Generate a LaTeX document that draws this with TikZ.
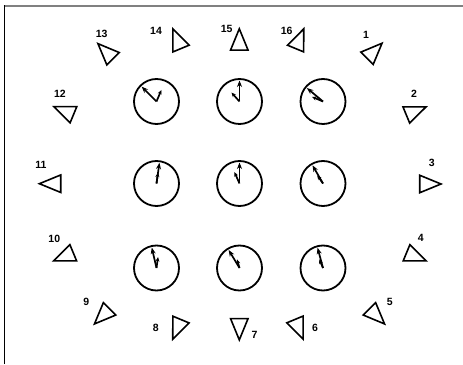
\documentclass[tikz,border=0pt]{standalone}
\usepackage{fontspec}
\setmainfont{Liberation Sans}
\usetikzlibrary{arrows.meta,calc}

\begin{document}
\begin{tikzpicture}[
    x=1pt, y=1pt,
    face/.style={circle, draw=black, line width=1.8pt, minimum size=45pt, inner sep=0pt},
    longhand/.style={-{Stealth[length=6.5pt,width=5pt]}, line width=1.7pt},
    shorthand/.style={-{Stealth[length=4.5pt,width=4pt]}, line width=1.7pt},
    tri/.style={draw=black, line width=1.6pt, line join=miter},
    num/.style={font=\bfseries\fontsize{10.5}{12}\selectfont, inner sep=0pt}
]
    \useasboundingbox (0,0) rectangle (463,364);
    \draw [gray, line width=2pt] (3.7,358) -- (463,358);
    \draw [black, line width=1.5pt] (4.7,0) -- (4.7,359);

    % clock faces
    \foreach \r/\y in {1/262.5, 2/180.5, 3/96}
        \foreach \c/\x in {1/156.5, 2/239.5, 3/323}
            \node [face] (c\r\c) at (\x,\y) {};

    % hands: face / long angle / short angle / short length
    \foreach \n/\la/\sa/\sl in {c11/135/67/12.5, c12/90/132/12, c13/140/157/12,
                               c21/82/82/11, c22/90/114/12.5, c23/120/125/10,
                               c31/103/82/11, c32/121/106/9, c33/105/113/9.5} {
        \draw [longhand] (\n.center) -- ++(\la:21);
        \draw [shorthand] (\n.center) -- ++(\sa:\sl);
    }

    % markers round the faces: number / centre / direction / label position
    \foreach \k/\tx/\ty/\a/\lx/\ly in {
        1/372/310.7/45/366/329,
        2/412.9/251.7/22.5/414/270,
        3/426.8/180/0/431.7/200.7,
        4/413.1/108.5/-22.5/420.8/126.3,
        5/374.5/50.1/-45/389.7/62,
        6/297.7/38/-67.5/315/36.3,
        7/239.3/38.3/-90/254.5/29.5,
        8/178.2/37.9/-112.5/155.8/36.3,
        9/104.5/50.1/-135/86.3/62,
        10/66.7/108.5/-157.5/54.3/125.3,
        11/53.6/180.3/180/41/199.3,
        12/66.9/252/157.5/60/270,
        13/108/310.3/135/101.7/330,
        14/178.3/322/112.5/156/333,
        15/239.3/321/90/226.7/335,
        16/298.3/322/67.5/286.7/333} {
        \coordinate (t\k) at (\tx,\ty);
        \draw [tri, shift={(t\k)}, rotate=\a] (14.2,0) -- (-7.1,8.75) -- (-7.1,-8.75) -- cycle;
        \node [num] (l\k) at (\lx,\ly) {\k};
    }
\end{tikzpicture}
\end{document}
